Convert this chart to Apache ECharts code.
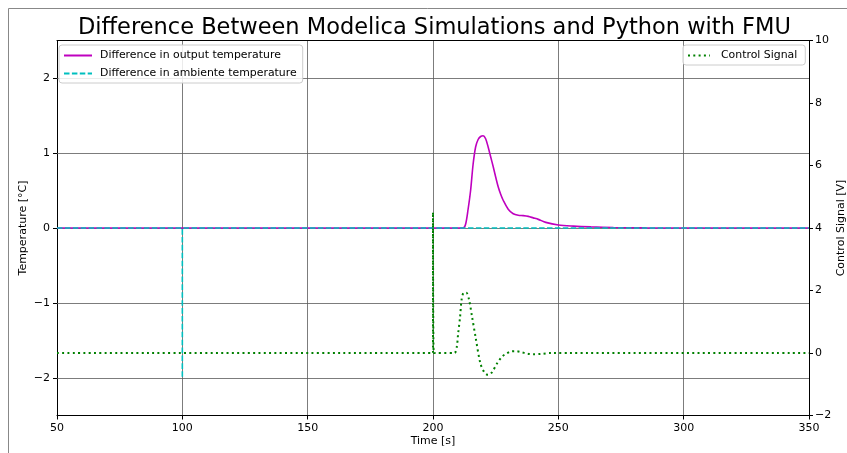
<!DOCTYPE html>
<html>
<head>
<meta charset="utf-8">
<script src="https://cdn.jsdelivr.net/npm/echarts@6/dist/echarts.min.js"></script>
<style>
html,body{margin:0;padding:0;background:#fff;}
#chart{width:847px;height:453px;}
</style>
</head>
<body>
<div id="chart"></div>
<script>
// ---- data ----
const titleText = 'Difference Between Modelica Simulations and Python with FMU';
const xTicks = [50, 100, 150, 200, 250, 300, 350];
const leftTicks = [-2, -1, 0, 1, 2];
const rightTicks = [-2, 0, 2, 4, 6, 8, 10];

const outTempTime = [50, 212, 213, 214, 215, 216, 217, 218, 219, 220, 221, 222, 223, 224, 225, 226, 227, 228, 230, 232, 234, 236, 238, 240, 242, 245, 250, 256, 263, 272, 285, 350];
const outTempDiff = [0, 0, 0.05, 0.25, 0.5, 0.85, 1.08, 1.18, 1.22, 1.23, 1.19, 1.08, 0.95, 0.82, 0.68, 0.55, 0.45, 0.37, 0.25, 0.19, 0.17, 0.165, 0.155, 0.135, 0.115, 0.075, 0.04, 0.025, 0.015, 0.007, 0.002, 0];

const ambTempTime = [50, 100, 100, 100, 350];
const ambTempDiff = [0, 0, -2, 0, 0];

const ctrlTime = [50, 200, 200, 200.3, 208.5, 209.5, 210, 210.8, 211.4, 212.3, 213.3, 214.4, 215.6, 217, 218.9, 220.5, 222, 223.5, 225.6, 227.5, 229, 231, 233, 235, 237.7, 240, 243, 247, 350];
const ctrlSignal = [0, 0, 4.5, 0, 0, 0.2, 0.6, 1.15, 1.7, 1.93, 1.93, 1.7, 1.15, 0.5, -0.33, -0.62, -0.7, -0.62, -0.33, -0.12, -0.03, 0.05, 0.06, 0.03, -0.02, -0.04, -0.03, 0, 0];

const zip = (xs, ys) => xs.map((x, i) => [x, ys[i]]);
const minus = v => String(v).replace('-', '\u2212');
const FONT = 'DejaVu Sans';

const chart = echarts.init(document.getElementById('chart'), null, {renderer: 'canvas'});
chart.setOption({
  animation: false,
  backgroundColor: '#fff',
  textStyle: {fontFamily: FONT},
  title: {
    text: titleText, left: 73, top: 12,
    textStyle: {fontFamily: FONT, fontSize: 22.5, fontWeight: 'normal', color: '#000'}
  },
  graphic: [
    {type: 'line', shape: {x1: 8.5, y1: 8.5, x2: 847, y2: 8.5}, style: {stroke: '#888', lineWidth: 1}, silent: true},
    {type: 'line', shape: {x1: 8.5, y1: 8.5, x2: 8.5, y2: 453}, style: {stroke: '#888', lineWidth: 1}, silent: true}
  ],
  legend: [
    {
      data: ['Difference in output temperature', 'Difference in ambiente temperature'],
      orient: 'vertical', left: 59, top: 45,
      itemWidth: 28, itemHeight: 10, itemGap: 7,
      padding: [5, 6, 4, 4],
      itemStyle: {opacity: 0},
      borderColor: '#ccc', borderWidth: 1, borderRadius: 3,
      backgroundColor: 'rgba(255,255,255,0.85)',
      textStyle: {fontFamily: FONT, fontSize: 10.9, color: '#000', padding: [0, 0, 0, 3]}
    },
    {
      data: ['Control Signal'],
      orient: 'vertical', left: 683, top: 45,
      itemWidth: 22, itemHeight: 10,
      padding: [5, 8, 4, 4],
      itemStyle: {opacity: 0},
      borderColor: '#ccc', borderWidth: 1, borderRadius: 3,
      backgroundColor: 'rgba(255,255,255,0.85)',
      textStyle: {fontFamily: FONT, fontSize: 10.9, color: '#000', padding: [0, 0, 0, 6]}
    }
  ],
  grid: {left: 57, top: 40.5, width: 752, height: 375, containLabel: false, outerBoundsMode: 'none'},
  xAxis: [
    {
      type: 'value', min: xTicks[0], max: xTicks[xTicks.length - 1], interval: 50,
      name: 'Time [s]', nameLocation: 'middle', nameGap: 20, nameMoveOverlap: false,
      nameTextStyle: {fontFamily: FONT, fontSize: 11, color: '#000'},
      axisLine: {show: true, onZero: false, lineStyle: {color: '#000', width: 1}},
      axisTick: {show: true, inside: false, length: 4, lineStyle: {color: '#000'}},
      axisLabel: {fontFamily: FONT, fontSize: 11, color: '#000', margin: 7, showMinLabel: true, showMaxLabel: true},
      splitLine: {show: true, lineStyle: {color: '#5a5a5a', width: 0.8}}
    },
    {
      type: 'value', position: 'top', min: 50, max: 350,
      axisLine: {show: true, onZero: false, lineStyle: {color: '#000', width: 1}},
      axisTick: {show: false}, axisLabel: {show: false}, splitLine: {show: false}
    }
  ],
  yAxis: [
    {
      type: 'value', min: -2.5, max: 2.5, position: 'left',
      name: 'Temperature [°C]', nameLocation: 'middle', nameGap: 28, nameRotate: 90, nameMoveOverlap: false,
      nameTextStyle: {fontFamily: FONT, fontSize: 11, color: '#000'},
      axisLine: {show: true, onZero: false, lineStyle: {color: '#000', width: 1}},
      axisTick: {show: true, length: 4, customValues: leftTicks, lineStyle: {color: '#000'}},
      axisLabel: {fontFamily: FONT, fontSize: 11, color: '#000', margin: 7, customValues: leftTicks, formatter: minus},
      splitLine: {show: false}
    },
    {
      type: 'value', min: rightTicks[0], max: rightTicks[rightTicks.length - 1], interval: 2, position: 'right',
      name: 'Control Signal [V]', nameLocation: 'middle', nameGap: 27, nameRotate: 90, nameMoveOverlap: false,
      nameTextStyle: {fontFamily: FONT, fontSize: 11, color: '#000'},
      axisLine: {show: true, onZero: false, lineStyle: {color: '#000', width: 1}},
      axisTick: {show: true, length: 4, lineStyle: {color: '#000'}},
      axisLabel: {fontFamily: FONT, fontSize: 11, color: '#000', margin: 6, formatter: minus, showMinLabel: true, showMaxLabel: true},
      splitLine: {show: false}
    }
  ],
  series: [
    {
      name: 'gridlines', type: 'line', xAxisIndex: 0, yAxisIndex: 0, data: [], z: 1, silent: true,
      markLine: {
        silent: true, z: 1, symbol: ['none', 'none'], label: {show: false},
        lineStyle: {color: '#5a5a5a', width: 0.8, type: 'solid'},
        emphasis: {disabled: true},
        data: leftTicks.map(v => ({yAxis: v}))
      }
    },
    {
      name: 'Difference in output temperature', type: 'line', xAxisIndex: 0, yAxisIndex: 0,
      data: zip(outTempTime, outTempDiff), symbol: 'none', smooth: 0.3, z: 3,
      lineStyle: {color: '#bf00bf', width: 1.6}, itemStyle: {color: '#bf00bf'}
    },
    {
      name: 'Difference in ambiente temperature', type: 'line', xAxisIndex: 0, yAxisIndex: 0,
      data: zip(ambTempTime, ambTempDiff), symbol: 'none', z: 4,
      lineStyle: {color: '#00bfbf', width: 1.6, type: [5.5, 2.4]}, itemStyle: {color: '#00bfbf'}
    },
    {
      name: 'Control Signal', type: 'line', xAxisIndex: 0, yAxisIndex: 1,
      data: zip(ctrlTime, ctrlSignal), symbol: 'none', smooth: 0.3, z: 5,
      lineStyle: {color: '#008000', width: 2, type: [2, 3.3]}, itemStyle: {color: '#008000'}
    }
  ]
});
</script>
</body>
</html>
